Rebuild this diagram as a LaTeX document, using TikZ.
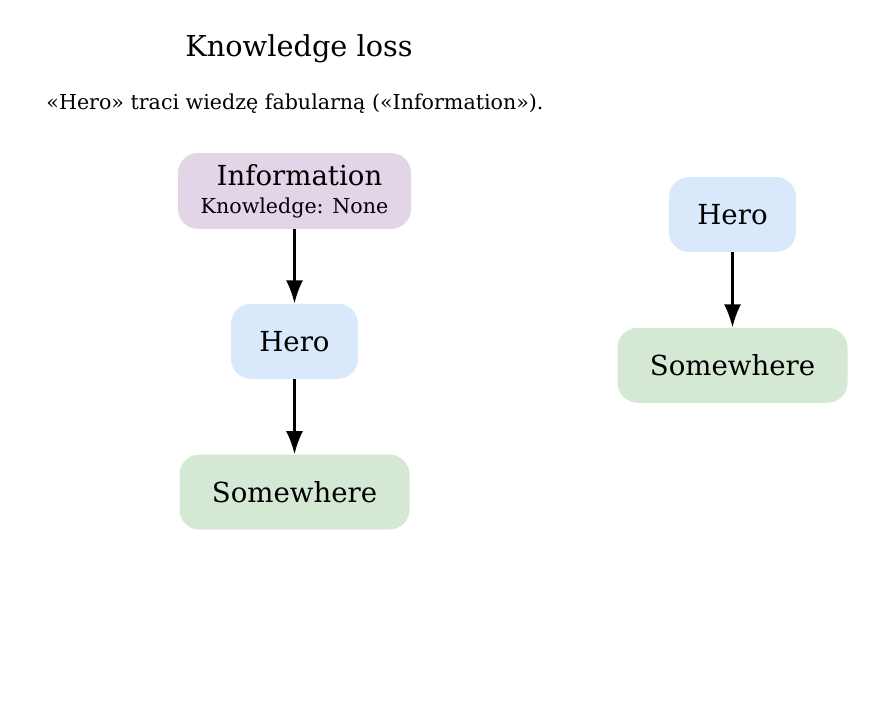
\documentclass[tikz,border=0pt]{standalone}
\usepackage{fontspec}
\setmainfont{DejaVu Serif}
\usepackage{tikz}
\usetikzlibrary{positioning}
\usetikzlibrary{arrows.meta}
\definecolor{infofill}{HTML}{E1D5E7}
\definecolor{herofill}{HTML}{DAE8FC}
\definecolor{placefill}{HTML}{D5E8D4}

\begin{document}
\begin{tikzpicture}[x=0.5pt,y=0.5pt,
    box/.style={rounded corners=10pt, inner sep=0pt, minimum height=37.5pt,
      font=\fontsize{13.8}{16}\selectfont},
    hero/.style={box, fill=herofill, minimum width=63.5pt},
    place/.style={box, fill=placefill, minimum width=115pt},
    info/.style={box, fill=infofill, minimum width=116.5pt, minimum height=38pt, align=center},
    arr/.style={-{Latex[length=11.5pt,width=8.5pt]}, line width=1.1pt}]
    \useasboundingbox (0,0) rectangle (876,707);

    \node(title) at (299,658) {\fontsize{14.4}{17}\selectfont Knowledge loss};
    \node(sub) at (295,603) {\fontsize{10.3}{12}\selectfont «Hero» traci wiedzę fabularną («Information»).};

    \node(info) [info] at (294.5,516) {\hspace{5pt}Information\\[-2pt]{\fontsize{10.3}{12}\selectfont Knowledge: None\hspace{5pt}}};
    \node(hero1) [hero, below=37pt of info] {Hero};
    \node(place1) [place, below=37.5pt of hero1] {Somewhere};

    \node(hero2) [hero] at (732.5,492.5) {Hero};
    \node(place2) [place, below=37.5pt of hero2] {Somewhere};

    \draw[arr] (info) -- (hero1);
    \draw[arr] (hero1) -- (place1);
    \draw[arr] (hero2) -- (place2);
  \end{tikzpicture}
\end{document}
